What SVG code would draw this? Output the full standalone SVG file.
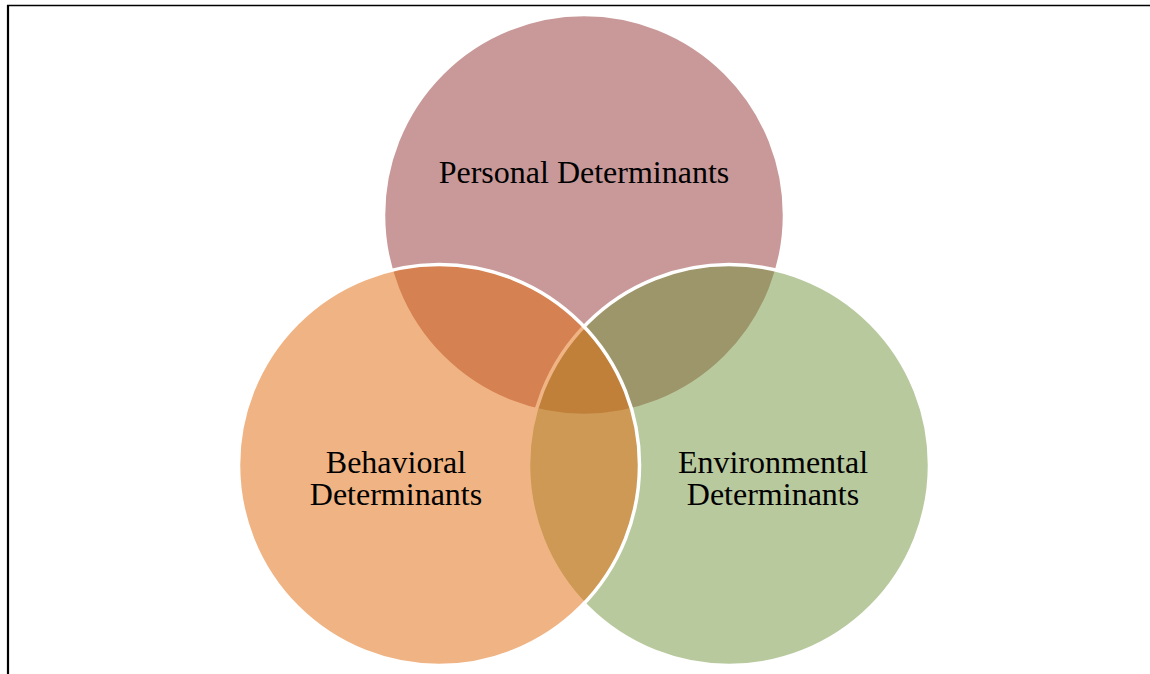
<svg xmlns="http://www.w3.org/2000/svg" width="1150" height="674" viewBox="0 0 1150 674">
<style>
.c{fill-opacity:0.5;stroke:#fff;stroke-width:3.5}
.t{font-family:"Liberation Serif","Times New Roman",serif;font-size:32px;fill:#000;text-anchor:middle}
</style>
<rect width="1150" height="674" fill="#fff"/>
<g id="frame" fill="none" stroke="#000">
<line x1="7" y1="5.5" x2="1150" y2="5.5" stroke-width="1.6"/>
<line x1="8" y1="5" x2="8" y2="674" stroke-width="2.2"/>
</g>
<g id="connectors"/>
<g id="personal">
<circle class="c" cx="584" cy="215" r="200.5" fill="#933333"/>
<text class="t" x="584" y="183">Personal Determinants</text>
</g>
<g id="environmental">
<circle class="c" cx="729" cy="465" r="200.5" fill="#73933D"/>
<text class="t" x="773" y="473">Environmental</text>
<text class="t" x="773" y="505">Determinants</text>
</g>
<g id="behavioral">
<circle class="c" cx="439" cy="465" r="200.5" fill="#E16909"/>
<text class="t" x="396" y="473">Behavioral</text>
<text class="t" x="396" y="505">Determinants</text>
</g>
</svg>
